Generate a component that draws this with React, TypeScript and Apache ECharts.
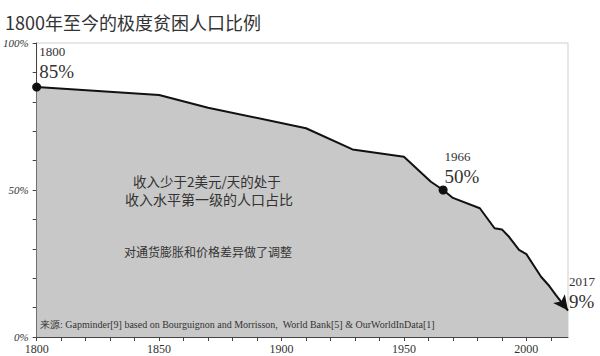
import React, { useEffect, useRef } from "react";
import * as echarts from "echarts";

const years = [1800, 1850, 1870, 1910, 1929, 1950, 1961, 1966, 1970, 1981, 1987, 1990, 1993, 1997, 2000, 2006, 2009, 2012, 2017];
const poverty = [85, 82.3, 78, 71, 63.8, 61.3, 52.8, 50, 47.3, 43.8, 37, 36.6, 34, 29.6, 28.2, 20.5, 17.7, 14.3, 9];
const xMajorLabels = [1800, 1850, 1900, 1950, 2000];
const yMajorLabels = [0, 50, 100];
const titleText = "1800年至今的极度贫困人口比例";
const noteLine1 = "收入少于2美元/天的处于";
const noteLine2 = "收入水平第一级的人口占比";
const noteLine3 = "对通货膨胀和价格差异做了调整";
const sourceText = "来源: Gapminder[9] based on Bourguignon and Morrisson,  World Bank[5] & OurWorldInData[1]";

const SERIF = "Liberation Serif";
const CJK = "Noto Sans CJK SC";

export default function App() {
  const ref = useRef<HTMLDivElement>(null);
  useEffect(() => {
    if (!ref.current) return;
    const chart = echarts.init(ref.current, undefined, { renderer: "svg" });
    const lastIdx = years.length - 1;
    const highlight = (i: number, dx: number, dy: number) => ({
      show: true,
      position: [dx, dy],
      align: "left",
      verticalAlign: "top",
      fontFamily: SERIF,
      color: "#333",
      formatter: `{a|${years[i]}}\n{b|${poverty[i]}%}`,
      rich: {
        a: { fontFamily: SERIF, fontSize: 13, lineHeight: 18, color: "#333" },
        b: { fontFamily: SERIF, fontSize: 19, lineHeight: 22, color: "#333" },
      },
    });
    const data = years.map((y, i) => {
      const item: any = { value: [y, poverty[i]] };
      if (i === 0) {
        item.symbol = "circle";
        item.symbolSize = 9;
        item.label = highlight(i, 7, -40);
      } else if (y === 1966) {
        item.symbol = "circle";
        item.symbolSize = 9;
        item.label = highlight(i, 6, -38);
      } else if (i === lastIdx) {
        item.symbol = "arrow";
        item.symbolSize = [11, 15];
        item.symbolRotate = -143;
        item.label = highlight(i, 16, -22);
      } else {
        item.symbol = "none";
      }
      return item;
    });
    chart.setOption({
      animation: false,
      title: {
        text: titleText,
        left: 0,
        top: 8,
        textStyle: { fontFamily: CJK, fontSize: 18, fontWeight: "normal", color: "#333" },
      },
      grid: {
        left: 34,
        right: 32,
        top: 43,
        bottom: 19,
        show: true,
        borderColor: "#cfcfcf",
        borderWidth: 1,
      },
      xAxis: {
        type: "value",
        min: 1800,
        max: 2017,
        interval: 10,
        splitLine: { show: false },
        axisLine: { show: true, lineStyle: { color: "#444", width: 1 } },
        axisTick: { show: true, inside: false, length: 4, lineStyle: { color: "#444" } },
        axisLabel: {
          margin: 6,
          showMaxLabel: false,
          fontFamily: SERIF,
          fontSize: 12,
          color: "#333",
          formatter: (v: number) => (xMajorLabels.includes(v) ? String(v) : ""),
        },
      },
      yAxis: {
        type: "value",
        min: 0,
        max: 100,
        interval: 10,
        splitLine: { show: false },
        axisLine: { show: true, lineStyle: { color: "#444", width: 1 } },
        axisTick: { show: true, inside: false, length: 4, lineStyle: { color: "#444" } },
        axisLabel: {
          margin: 8,
          fontFamily: SERIF,
          fontStyle: "italic",
          fontSize: 11,
          color: "#333",
          formatter: (v: number) => (yMajorLabels.includes(v) ? v + "%" : ""),
        },
      },
      series: [
        {
          type: "line",
          data,
          showSymbol: true,
          lineStyle: { color: "#111", width: 2 },
          itemStyle: { color: "#111" },
          areaStyle: { color: "#c8c8c8", opacity: 1 },
          z: 3,
        },
      ],
      graphic: [
        {
          type: "text",
          left: 133,
          top: 174,
          style: { text: noteLine1, fontFamily: CJK, fontSize: 13.5, fill: "#333" },
          z: 10,
        },
        {
          type: "text",
          left: 125,
          top: 192,
          style: { text: noteLine2, fontFamily: CJK, fontSize: 14, fill: "#333" },
          z: 10,
        },
        {
          type: "text",
          left: 124,
          top: 245,
          style: { text: noteLine3, fontFamily: CJK, fontSize: 12, fill: "#333" },
          z: 10,
        },
        {
          type: "text",
          left: 40,
          top: 319,
          style: { text: sourceText, fontFamily: SERIF, fontSize: 10, fill: "#333" },
          z: 10,
        },
      ],
    });
    return () => chart.dispose();
  }, []);
  return (
    <div
      ref={ref}
      style={{ position: "fixed", left: 0, top: 0, width: 600, height: 356, background: "#fff" }}
    />
  );
}
